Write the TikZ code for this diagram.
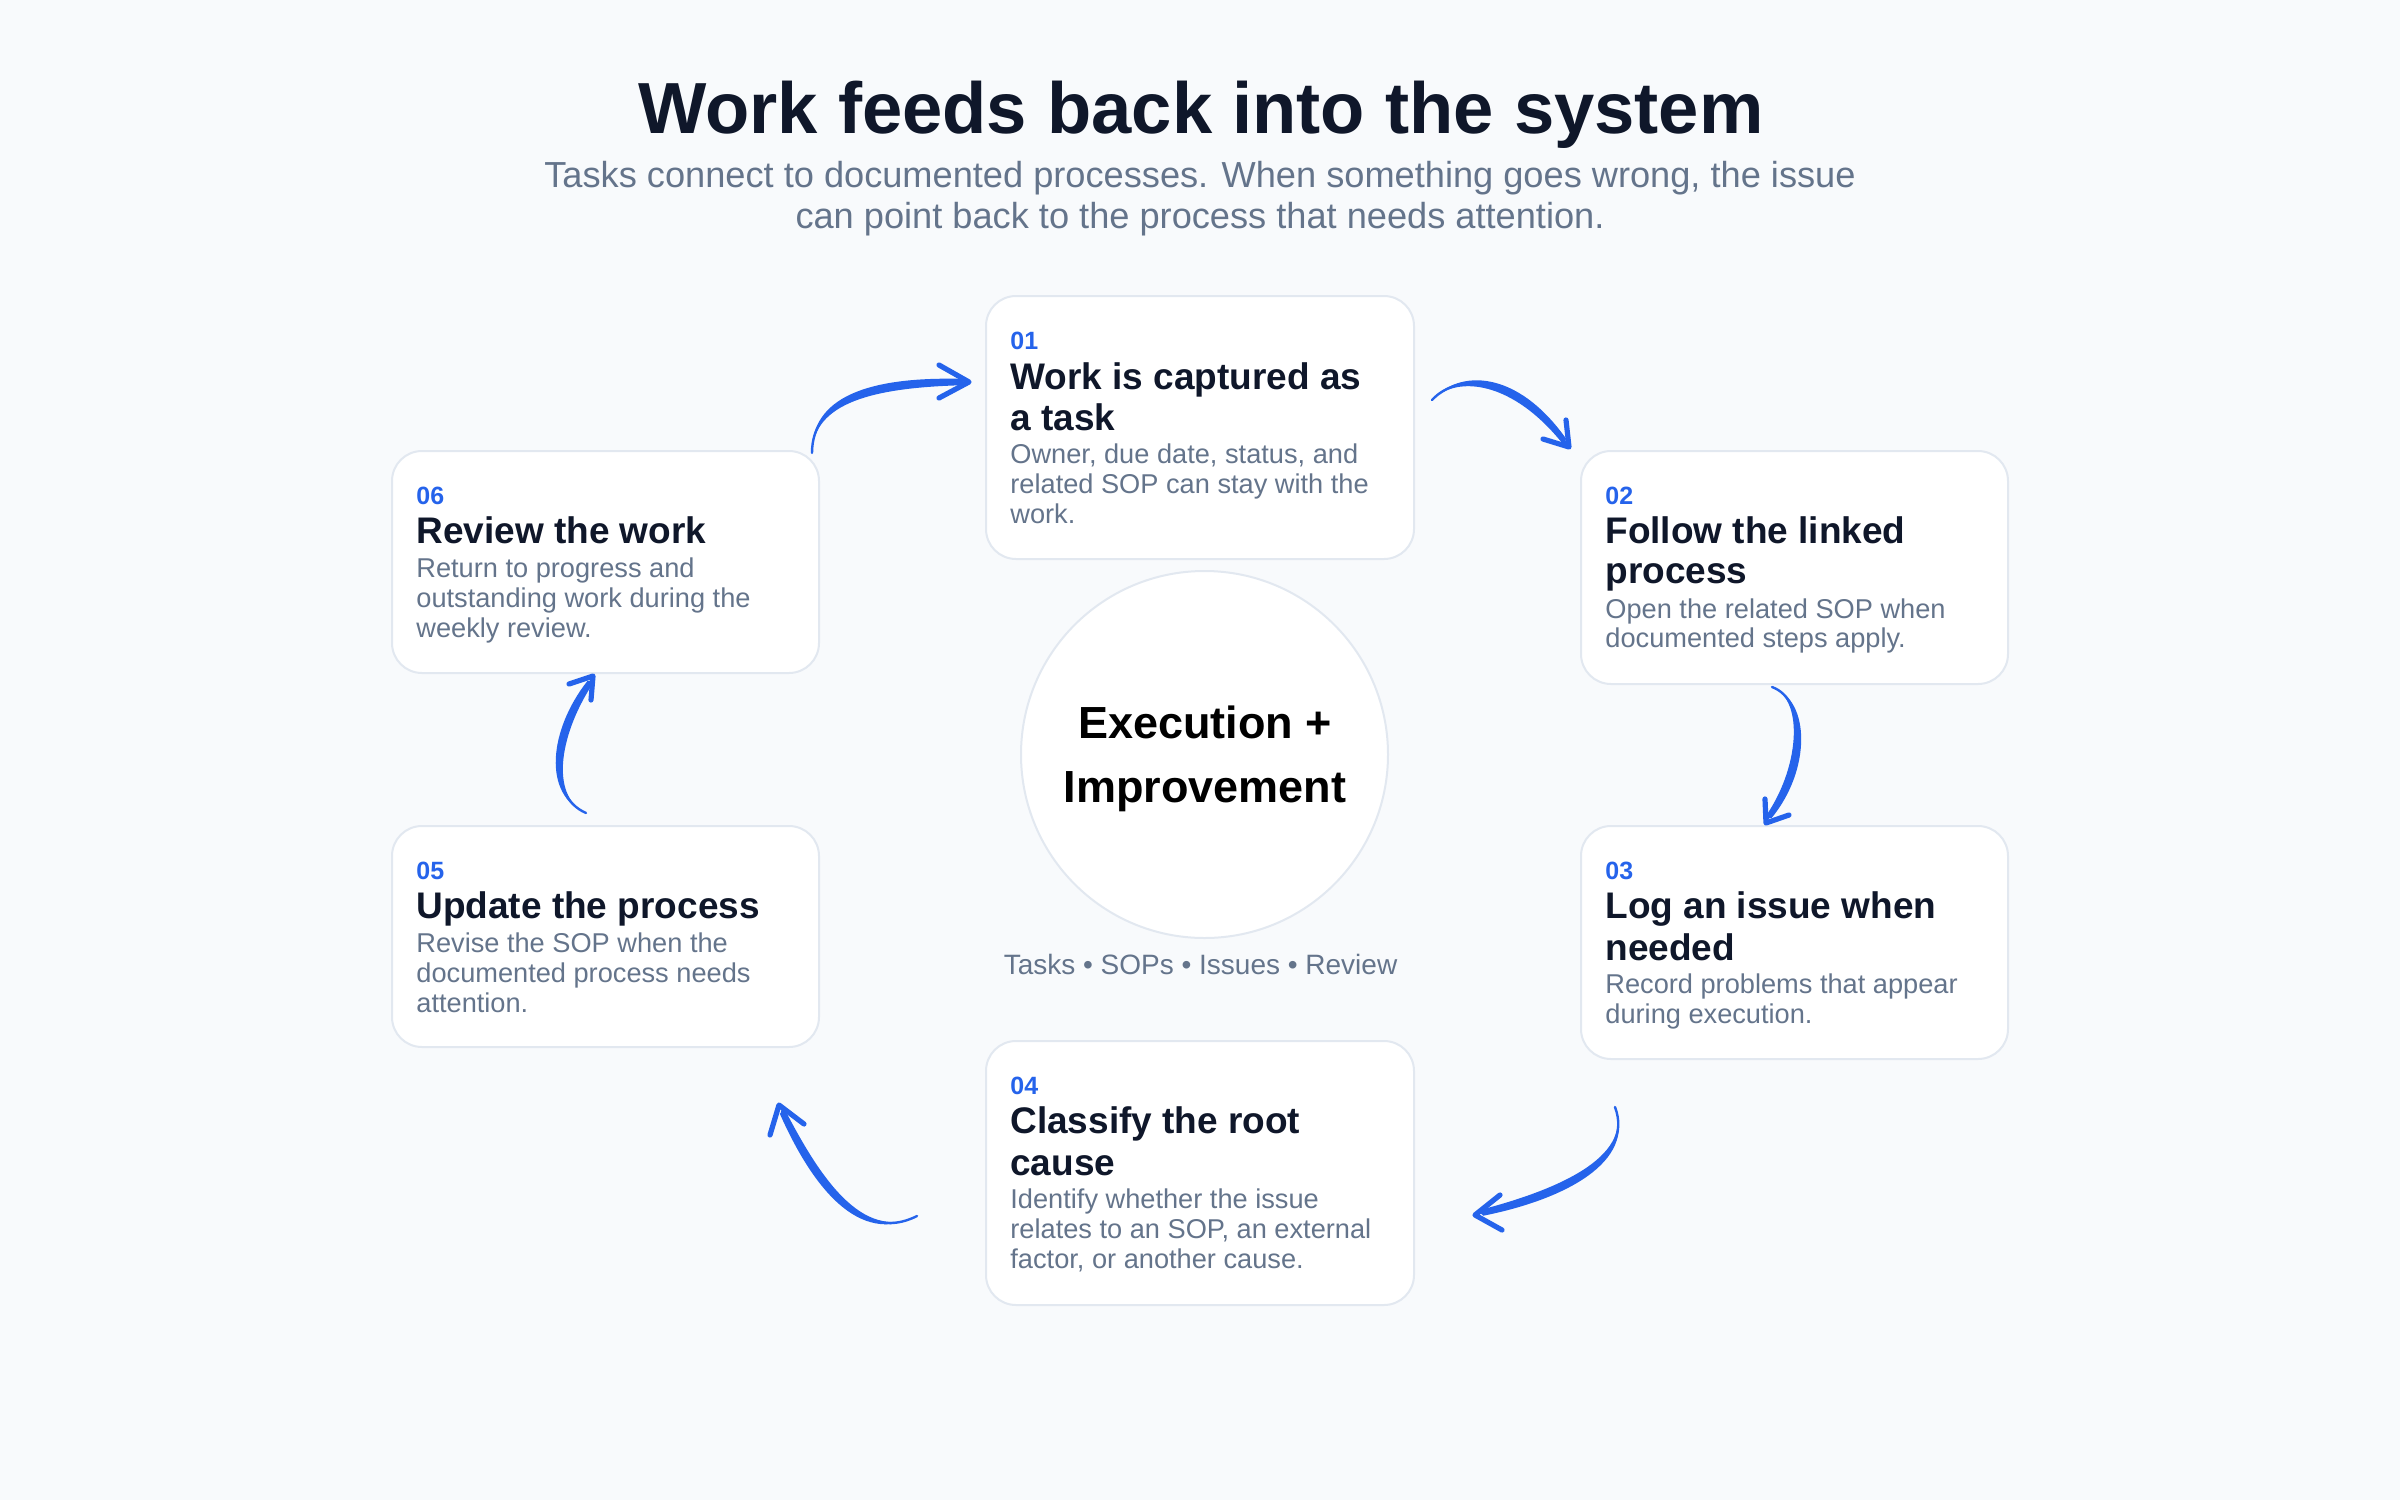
\documentclass[tikz,border=0pt]{standalone}
\usepackage{fontspec}
\setmainfont{Liberation Sans}
\usetikzlibrary{calc}
\definecolor{bg}{HTML}{F8FAFC}
\definecolor{cardborder}{HTML}{E2E8F0}
\definecolor{ink}{HTML}{0F172A}
\definecolor{muted}{HTML}{64748B}
\definecolor{accent}{HTML}{2563EB}
\newcommand\taperarrow[7]{%
  \coordinate (tn) at ($(#1)!0.5pt!90:(#4)$);
  \fill[accent] (#1) .. controls ($(#2)+#5*(tn)-#5*(#1)$) and ($(#3)+#6*(tn)-#6*(#1)$) .. ($(#4)+#7*(tn)-#7*(#1)$)
     -- ($(#4)-#7*(tn)+#7*(#1)$) .. controls ($(#3)-#6*(tn)+#6*(#1)$) and ($(#2)-#5*(tn)+#5*(#1)$) .. (#1) -- cycle;
  \draw[accent, line width=1.2pt, line cap=round] (#1) .. controls (#2) and (#3) .. (#4);
}
\begin{document}
\begin{tikzpicture}[x=0.5pt,y=-0.5pt,
  card/.style={draw=cardborder, line width=1pt, fill=white, rounded corners=15pt, inner sep=0pt},
  numtxt/.style={anchor=base west, inner sep=0pt, text=accent, font=\fontsize{12.5}{14}\selectfont\bfseries},
  ttltxt/.style={anchor=base west, inner sep=0pt, text=ink, font=\fontsize{18.5}{20}\selectfont\bfseries},
  dsctxt/.style={anchor=base west, inner sep=0pt, text=muted, font=\fontsize{13.6}{15}\selectfont},
  barb/.style={draw=accent, line width=2.6pt, line cap=round, line join=round}]
\fill[bg] (0,0) rectangle (2400,1500);
\useasboundingbox (0,0) rectangle (2400,1500);

% heading
\node (title) [anchor=base, inner sep=0pt, text=ink, font=\fontsize{36.2}{40}\selectfont\bfseries] at (1201,133) {Work feeds back into the system};
\node (sub1) [anchor=base, inner sep=0pt, text=muted, font=\fontsize{18.1}{20}\selectfont] at (1200,187) {Tasks connect to documented processes. When something goes wrong, the issue};
\node (sub2) [anchor=base, inner sep=0pt, text=muted, font=\fontsize{18.1}{20}\selectfont] at (1200,228) {can point back to the process that needs attention.};

% cards
\node (b1) [card, minimum width=214pt, minimum height=131.5pt] at (1200,427.5) {};
\node (b2) [card, minimum width=213.5pt, minimum height=116.5pt] at (1794.5,567.5) {};
\node (b3) [card, minimum width=213.5pt, minimum height=116.5pt] at (1794.5,942.5) {};
\node (b4) [card, minimum width=214pt, minimum height=132pt] at (1200,1173) {};
\node (b5) [card, minimum width=213.5pt, minimum height=110.5pt] at (605.5,936.5) {};
\node (b6) [card, minimum width=213.5pt, minimum height=111pt] at (605.5,562) {};

% card 01
\node (b1n) [numtxt] at (1010,349) {01};
\node (b1t1) [ttltxt] at (1010,389) {Work is captured as};
\node (b1t2) [ttltxt] at (1010,430) {a task};
\node (b1d1) [dsctxt] at (1010,463) {Owner, due date, status, and};
\node (b1d2) [dsctxt] at (1010,493) {related SOP can stay with the};
\node (b1d3) [dsctxt] at (1010,523) {work.};
% card 02
\node (b2n) [numtxt] at (1605,504) {02};
\node (b2t1) [ttltxt] at (1605,543) {Follow the linked};
\node (b2t2) [ttltxt] at (1605,583) {process};
\node (b2d1) [dsctxt] at (1605,618) {Open the related SOP when};
\node (b2d2) [dsctxt] at (1605,647) {documented steps apply.};
% card 03
\node (b3n) [numtxt] at (1605,879) {03};
\node (b3t1) [ttltxt] at (1605,918) {Log an issue when};
\node (b3t2) [ttltxt] at (1605,960) {needed};
\node (b3d1) [dsctxt] at (1605,993) {Record problems that appear};
\node (b3d2) [dsctxt] at (1605,1023) {during execution.};
% card 04
\node (b4n) [numtxt] at (1010,1094) {04};
\node (b4t1) [ttltxt] at (1010,1133) {Classify the root};
\node (b4t2) [ttltxt] at (1010,1175) {cause};
\node (b4d1) [dsctxt] at (1010,1208) {Identify whether the issue};
\node (b4d2) [dsctxt] at (1010,1238) {relates to an SOP, an external};
\node (b4d3) [dsctxt] at (1010,1268) {factor, or another cause.};
% card 05
\node (b5n) [numtxt] at (416,879) {05};
\node (b5t1) [ttltxt] at (416,918) {Update the process};
\node (b5d1) [dsctxt] at (416,952) {Revise the SOP when the};
\node (b5d2) [dsctxt] at (416,982) {documented process needs};
\node (b5d3) [dsctxt] at (416,1012) {attention.};
% card 06
\node (b6n) [numtxt] at (416,504) {06};
\node (b6t1) [ttltxt] at (416,543) {Review the work};
\node (b6d1) [dsctxt] at (416,577) {Return to progress and};
\node (b6d2) [dsctxt] at (416,607) {outstanding work during the};
\node (b6d3) [dsctxt] at (416,637) {weekly review.};

% hub
\node (hub) [circle, draw=cardborder, line width=1pt, fill=white, minimum size=183.5pt, inner sep=0pt] at (1204.5,754.5) {};
\node (hub1) [anchor=base, inner sep=0pt, text=black, font=\fontsize{22.5}{24}\selectfont\bfseries] at (1205,738) {Execution +};
\node (hub2) [anchor=base, inner sep=0pt, text=black, font=\fontsize{22.5}{24}\selectfont\bfseries] at (1205,802) {Improvement};
\node (tags) [anchor=base, inner sep=0pt, text=muted, font=\fontsize{14}{15}\selectfont] at (1200.5,974) {Tasks • SOPs • Issues • Review};

% arrow coordinates
\coordinate (a1s) at (812,453); \coordinate (a1c1) at (812,400); \coordinate (a1c2) at (870,382); \coordinate (a1e) at (963,382);
\coordinate (a1t) at (969,382); \coordinate (a1l) at (939,365); \coordinate (a1r) at (939,398);
\coordinate (a2s) at (1432,400); \coordinate (a2c1) at (1458,372); \coordinate (a2c2) at (1515,375); \coordinate (a2e) at (1565,442);
\coordinate (a2t) at (1569,447); \coordinate (a2l) at (1543,439); \coordinate (a2r) at (1566,420);
\coordinate (a3s) at (1772,687); \coordinate (a3c1) at (1808,700); \coordinate (a3c2) at (1805,770); \coordinate (a3e) at (1768,818);
\coordinate (a3t) at (1766,823); \coordinate (a3l) at (1765,799); \coordinate (a3r) at (1789,815);
\coordinate (a4s) at (1615,1107); \coordinate (a4c1) at (1635,1160); \coordinate (a4c2) at (1560,1195); \coordinate (a4e) at (1481,1213);
\coordinate (a4t) at (1475,1215); \coordinate (a4l) at (1500,1195); \coordinate (a4r) at (1502,1230);
\coordinate (a5s) at (917,1216); \coordinate (a5c1) at (860,1245); \coordinate (a5c2) at (815,1180); \coordinate (a5e) at (782,1111);
\coordinate (a5t) at (779,1105); \coordinate (a5l) at (770,1135); \coordinate (a5r) at (804,1124);
\coordinate (a6s) at (586,813); \coordinate (a6c1) at (545,795); \coordinate (a6c2) at (555,730); \coordinate (a6e) at (591,681);
\coordinate (a6t) at (593,676); \coordinate (a6l) at (569,684); \coordinate (a6r) at (591,700);

\taperarrow{a1s}{a1c1}{a1c2}{a1e}{3}{6}{3.5}
\draw[barb] (a1l) -- (a1t) -- (a1r);
\taperarrow{a2s}{a2c1}{a2c2}{a2e}{3}{6}{3.5}
\draw[barb] (a2l) -- (a2t) -- (a2r);
\taperarrow{a3s}{a3c1}{a3c2}{a3e}{3}{6}{3.5}
\draw[barb] (a3l) -- (a3t) -- (a3r);
\taperarrow{a4s}{a4c1}{a4c2}{a4e}{3}{6}{3.5}
\draw[barb] (a4l) -- (a4t) -- (a4r);
\taperarrow{a5s}{a5c1}{a5c2}{a5e}{3}{6}{3.5}
\draw[barb] (a5l) -- (a5t) -- (a5r);
\taperarrow{a6s}{a6c1}{a6c2}{a6e}{3}{6}{3.5}
\draw[barb] (a6l) -- (a6t) -- (a6r);
\end{tikzpicture}
\end{document}
